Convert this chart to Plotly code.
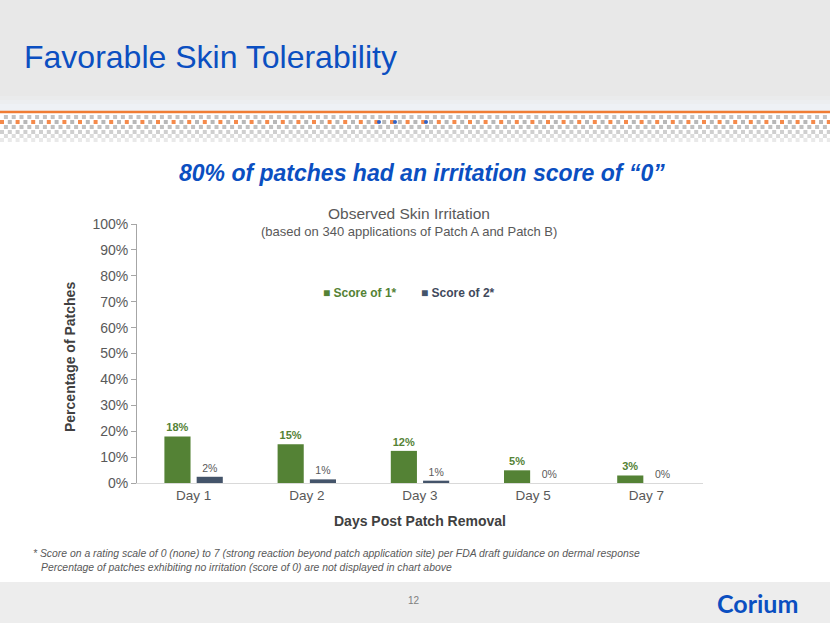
import plotly.graph_objects as go

W, H = 830, 623

# ---- data ----
days = ["Day 1", "Day 2", "Day 3", "Day 5", "Day 7"]
score1 = [18.0, 15.0, 12.4, 4.9, 2.9]
score2 = [2.4, 1.4, 0.9, 0.0, 0.0]
series_names = ["Score of 1*", "Score of 2*"]
y_ticks = [0, 10, 20, 30, 40, 50, 60, 70, 80, 90, 100]
y_tick_labels = ["0%", "10%", "20%", "30%", "40%", "50%", "60%", "70%", "80%", "90%", "100%"]

GREEN = "#548235"
NAVY = "#44546A"
BLUE = "#0B4FC1"
GRAY_TXT = "#595959"
FONT = "Liberation Sans, Arial, sans-serif"
NARROW = "Liberation Sans Narrow, Liberation Sans, Arial, sans-serif"


def py(y):
    return 1 - y / H


def px(x):
    return x / W


fig = go.Figure()
fig.add_trace(go.Bar(
    x=days, y=score1, name=series_names[0],
    marker=dict(color=GREEN, line=dict(width=0)),
    texttemplate="<b>%{y:.0f}%</b>", textposition="outside",
    textfont=dict(family=NARROW, size=11, color=GREEN), cliponaxis=False,
))
fig.add_trace(go.Bar(
    x=days, y=score2, name=series_names[1],
    marker=dict(color=NAVY, line=dict(width=0)),
    texttemplate="%{y:.0f}%", textposition="outside",
    textfont=dict(family=NARROW, size=10.5, color=GRAY_TXT), cliponaxis=False,
))

shapes = []
# header background
shapes.append(dict(type="rect", xref="paper", yref="paper", x0=0, x1=1, y0=py(96), y1=py(0),
                   fillcolor="#E8E8E8", line=dict(width=0), layer="below"))
for (a, b, c) in [(96, 100, "#EAEBEC"), (100, 104, "#ECEEF0"), (104, 111, "#EEF1F5")]:
    shapes.append(dict(type="rect", xref="paper", yref="paper", x0=0, x1=1, y0=py(b), y1=py(a),
                       fillcolor=c, line=dict(width=0), layer="below"))
# orange rule
shapes.append(dict(type="line", xref="paper", yref="paper", x0=0, x1=1, y0=py(112), y1=py(112),
                   line=dict(color="#F07C33", width=2.5), layer="below"))
# dotted band
rows = [
    (117, "#C4C4C4", "4px,3.8px", 3.9),
    (122, "#B8B8B8", "4px,11.6px", 7.8),
    (122, "#F58A4B", "4px,11.6px", 0.0),
    (127, "#C2C2C2", "4px,3.8px", 3.9),
    (132, "#CFCFCF", "4px,3.8px", 0.0),
    (136, "#DCDCDC", "4px,3.8px", 3.9),
    (140, "#E9E9E9", "4px,3.8px", 0.0),
]
for (yy, col, dash, off) in rows:
    shapes.append(dict(type="line", xref="paper", yref="paper", x0=px(off), x1=1,
                       y0=py(yy), y1=py(yy), line=dict(color=col, width=4, dash=dash), layer="below"))
for bx in [379, 395, 426]:
    shapes.append(dict(type="circle", xref="paper", yref="paper", x0=px(bx - 2), x1=px(bx + 2),
                       y0=py(124), y1=py(120), fillcolor="#2F63C8", line=dict(width=0), layer="below"))
# footer band
shapes.append(dict(type="rect", xref="paper", yref="paper", x0=0, x1=1, y0=0, y1=py(582),
                   fillcolor="#EDEDED", line=dict(width=0), layer="below"))

ann = []
ann.append(dict(text="Favorable Skin Tolerability", x=px(22), y=py(57), xanchor="left", yanchor="middle",
                font=dict(family=FONT, size=32, color=BLUE)))
ann.append(dict(text="<b><i>80% of patches had an irritation score of \u201c0\u201d</i></b>", x=px(422), y=py(173),
                xanchor="center", yanchor="middle", font=dict(family=FONT, size=23, color=BLUE)))
ann.append(dict(text="Observed Skin Irritation", x=px(409), y=py(213), xanchor="center", yanchor="middle",
                font=dict(family=FONT, size=15.5, color=GRAY_TXT)))
ann.append(dict(text="(based on 340 applications of Patch A and Patch B)", x=px(409), y=py(231),
                xanchor="center", yanchor="middle", font=dict(family=FONT, size=13, color=GRAY_TXT)))
ann.append(dict(text="<b>Percentage of Patches</b>", x=px(70), y=py(357), xanchor="center", yanchor="middle",
                textangle=-90, font=dict(family=FONT, size=14, color="#404040")))
ann.append(dict(text="<b>Days Post Patch Removal</b>", x=px(420), y=py(521), xanchor="center", yanchor="middle",
                font=dict(family=FONT, size=14, color="#404040")))
# legend entries
ann.append(dict(text=f"<span style='color:{GREEN}'>\u25A0</span> <b>{series_names[0]}</b>", x=px(321), y=py(293),
                xanchor="left", yanchor="middle", font=dict(family=FONT, size=12, color=GREEN)))
ann.append(dict(text=f"<span style='color:{NAVY}'>\u25A0</span> <b>{series_names[1]}</b>", x=px(419), y=py(293),
                xanchor="left", yanchor="middle", font=dict(family=FONT, size=12, color="#3F4A5C")))
ann.append(dict(text="<i>* Score on a rating scale of 0 (none) to 7 (strong reaction beyond patch application site) per FDA draft guidance on dermal response</i>",
                x=px(31), y=py(553), xanchor="left", yanchor="middle",
                font=dict(family=NARROW, size=10.4, color=GRAY_TXT)))
ann.append(dict(text="<i>Percentage of patches exhibiting no irritation (score of 0) are not displayed in chart above</i>",
                x=px(39), y=py(567), xanchor="left", yanchor="middle",
                font=dict(family=NARROW, size=10.4, color=GRAY_TXT)))
ann.append(dict(text="12", x=px(414), y=py(600), xanchor="center", yanchor="middle",
                font=dict(family=NARROW, size=10, color="#7F7F7F")))
ann.append(dict(text="<b>Corium</b>", x=px(757), y=py(603), xanchor="center", yanchor="middle",
                font=dict(family="Lato, Inter, sans-serif", size=25, color="#0B4FC1")))
for a in ann:
    a.update(xref="paper", yref="paper", showarrow=False)

fig.update_layout(
    width=W, height=H,
    margin=dict(l=0, r=0, t=0, b=0, pad=0, autoexpand=False),
    paper_bgcolor="white", plot_bgcolor="rgba(0,0,0,0)",
    barmode="group", bargap=0.43, bargroupgap=0.19,
    shapes=shapes, annotations=ann,
    showlegend=False,
    xaxis=dict(domain=[px(137), px(703)], showline=True, linecolor="#D9D9D9", linewidth=1,
               ticks="", tickfont=dict(family=FONT, size=13.5, color=GRAY_TXT), showgrid=False,
               zeroline=False, automargin=False),
    yaxis=dict(domain=[py(483), py(224)], range=[0, 100], tickvals=y_ticks, ticktext=y_tick_labels,
               showline=True, linecolor="#A6A6A6", linewidth=1, ticks="outside", ticklen=5,
               tickcolor="#A6A6A6", tickfont=dict(family=FONT, size=14, color=GRAY_TXT),
               showgrid=False, zeroline=False, automargin=False),
)

css_js = (
    "var s=document.createElement('style');"
    "s.innerHTML='html,body{margin:0!important;padding:0!important;overflow:hidden;}';"
    "document.head.appendChild(s);"
    "window.scrollTo(0,0);"
)
fig.write_html("out.html", config={"displayModeBar": False}, post_script=css_js)
